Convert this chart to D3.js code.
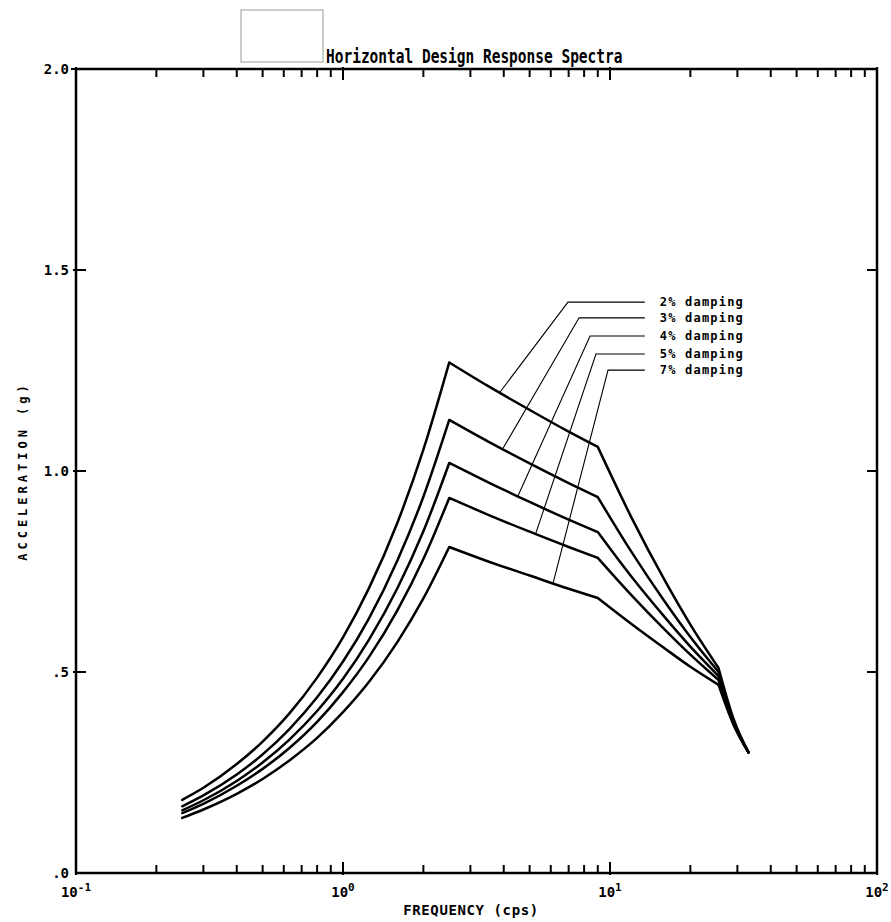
<!DOCTYPE html>
<html>
<head>
<meta charset="utf-8">
<script src="https://cdn.jsdelivr.net/npm/d3@7"></script>
<style>
  body { margin: 0; background: #fff; }
  text { font-family: "DejaVu Sans Mono", monospace; font-weight: bold; fill: #000; }
</style>
</head>
<body>
<svg id="chart" width="891" height="922"></svg>
<script>
var freq = [0.25, 0.3, 0.4, 0.5, 0.63, 0.8, 1.0, 1.25, 1.6, 2.0, 2.5, 3.5, 5, 7, 9, 12, 16, 20, 25.5, 29, 33];
// corner points of the spectra (indices into freq)
var corners = [0, 10, 14, 18, 20];

// acceleration (g) for each damping
var acc2 = [0.182, 0.212, 0.271, 0.327, 0.397, 0.486, 0.586, 0.708, 0.872, 1.053, 1.27, 1.211, 1.152, 1.098, 1.06, 0.886, 0.729, 0.618, 0.51, 0.384, 0.30];
var acc3 = [0.166, 0.193, 0.245, 0.295, 0.358, 0.437, 0.526, 0.633, 0.778, 0.936, 1.127, 1.073, 1.019, 0.970, 0.935, 0.800, 0.676, 0.587, 0.50, 0.380, 0.30];
var acc4 = [0.156, 0.181, 0.229, 0.275, 0.332, 0.403, 0.483, 0.580, 0.709, 0.850, 1.02, 0.972, 0.923, 0.879, 0.848, 0.738, 0.637, 0.563, 0.49, 0.377, 0.30];
var acc5 = [0.149, 0.172, 0.217, 0.259, 0.311, 0.376, 0.450, 0.537, 0.654, 0.781, 0.933, 0.891, 0.849, 0.811, 0.784, 0.692, 0.606, 0.543, 0.48, 0.373, 0.30];
var acc7 = [0.137, 0.158, 0.197, 0.234, 0.280, 0.336, 0.400, 0.475, 0.575, 0.683, 0.811, 0.775, 0.740, 0.707, 0.684, 0.620, 0.559, 0.513, 0.468, 0.369, 0.30];

// legend labels and their leader lines (corner, end on curve)
var labels = ['2% damping', '3% damping', '4% damping', '5% damping', '7% damping'];
var labelAcc = [1.420, 1.381, 1.336, 1.291, 1.251];
var cornerFreq = [6.96, 7.66, 8.42, 8.86, 9.83];
var anchorFreq = [3.87, 3.98, 4.52, 5.28, 6.12];
var anchorAcc = [1.196, 1.057, 0.938, 0.846, 0.721];
var leaderEnd = 13.5;

var yTicks = [0, 0.5, 1.0, 1.5, 2.0];
var yTickLabels = ['.0', '.5', '1.0', '1.5', '2.0'];
var xDecades = [0.1, 1, 10, 100];
var xDecadeExp = ['-1', '0', '1', '2'];

var svg = d3.select('#chart');

var x = d3.scaleLog().domain([0.1, 100]).range([76, 877]);
var y = d3.scaleLinear().domain([0, 2]).range([873, 69]);

// title box and title
svg.append('rect')
	.attr('x', 241).attr('y', 10)
	.attr('width', 82).attr('height', 52)
	.attr('fill', 'none')
	.attr('stroke', '#999')
	.attr('stroke-width', 1);

svg.append('text')
	.attr('transform', 'translate(326,63) scale(1,1.3)')
	.style('font-size', '14.5px')
	.text('Horizontal Design Response Spectra');

// x ticks, bottom and top
var xMinor = x.ticks().filter(function(d) {
	return xDecades.indexOf(d) < 0;
});

function tickLines(vals, len, yBase, dir) {
	svg.append('g').selectAll('line')
		.data(vals)
		.enter().append('line')
		.attr('x1', function(d) { return x(d); })
		.attr('x2', function(d) { return x(d); })
		.attr('y1', yBase)
		.attr('y2', yBase + dir * len)
		.attr('stroke', '#000')
		.attr('stroke-width', 2);
}
tickLines(xMinor, 8, y(0), -1);
tickLines(xDecades, 13, y(0) + 2, -1);
tickLines(xMinor, 8, y(2), 1);
tickLines(xDecades, 13, y(2) - 2, 1);

// y ticks, left and right
svg.append('g').selectAll('line')
	.data(yTicks.slice(1, 4))
	.enter().append('line')
	.attr('x1', x(0.1) - 3).attr('x2', x(0.1) + 10)
	.attr('y1', function(d) { return y(d); })
	.attr('y2', function(d) { return y(d); })
	.attr('stroke', '#000').attr('stroke-width', 2);
svg.append('line')
	.attr('x1', x(0.1) - 5).attr('x2', x(0.1))
	.attr('y1', y(2)).attr('y2', y(2))
	.attr('stroke', '#000').attr('stroke-width', 2);
svg.append('g').selectAll('line')
	.data(yTicks.slice(1, 4))
	.enter().append('line')
	.attr('x1', x(100) - 10).attr('x2', x(100))
	.attr('y1', function(d) { return y(d); })
	.attr('y2', function(d) { return y(d); })
	.attr('stroke', '#000').attr('stroke-width', 2);

// frame
svg.append('rect')
	.attr('x', x(0.1)).attr('y', y(2))
	.attr('width', x(100) - x(0.1))
	.attr('height', y(0) - y(2))
	.attr('fill', 'none')
	.attr('stroke', '#000')
	.attr('stroke-width', 2.5);

// y tick labels
svg.append('g').selectAll('text')
	.data(yTicks)
	.enter().append('text')
	.attr('x', x(0.1) - 7)
	.attr('y', function(d) { return y(d); })
	.attr('dy', '0.36em')
	.attr('text-anchor', 'end')
	.style('font-size', '14px')
	.text(function(d, i) { return yTickLabels[i]; });

// x tick labels with superscripts
var xl = svg.append('g').selectAll('text')
	.data(xDecades)
	.enter().append('text')
	.attr('x', function(d) { return x(d); })
	.attr('y', 897)
	.attr('text-anchor', 'middle')
	.style('font-size', '14px');
xl.append('tspan').text('10');
xl.append('tspan')
	.attr('dy', -6)
	.style('font-size', '11px')
	.text(function(d, i) { return xDecadeExp[i]; });

// axis titles
svg.append('text')
	.attr('x', 471).attr('y', 915)
	.attr('text-anchor', 'middle')
	.style('font-size', '14px')
	.style('letter-spacing', '0.6px')
	.text('FREQUENCY (cps)');

svg.append('text')
	.attr('transform', 'translate(27,471) rotate(-90)')
	.attr('text-anchor', 'middle')
	.style('font-size', '12px')
	.style('letter-spacing', '4px')
	.text('ACCELERATION (g)');

// curves: each segment between corners drawn smooth, corners kept sharp
var series = [acc2, acc3, acc4, acc5, acc7];
var line = d3.line()
	.x(function(d) { return x(d[0]); })
	.y(function(d) { return y(d[1]); })
	.curve(d3.curveMonotoneX);

function spectrumPath(acc) {
	var p = d3.path();
	line.context(p);
	for (var s = 0; s < corners.length - 1; s++) {
		var pts = [];
		for (var i = corners[s]; i <= corners[s + 1]; i++) {
			pts.push([freq[i], acc[i]]);
		}
		line(pts);
	}
	line.context(null);
	return p.toString();
}

svg.append('g').selectAll('path')
	.data(series)
	.enter().append('path')
	.attr('d', spectrumPath)
	.attr('fill', 'none')
	.attr('stroke', '#000')
	.attr('stroke-width', 2.5)
	.attr('stroke-linecap', 'round')
	.attr('stroke-linejoin', 'round');

// leader lines
svg.append('g').selectAll('path')
	.data(labels)
	.enter().append('path')
	.attr('d', function(d, i) {
		return 'M' + x(anchorFreq[i]) + ',' + y(anchorAcc[i]) +
			'L' + x(cornerFreq[i]) + ',' + y(labelAcc[i]) +
			'L' + x(leaderEnd) + ',' + y(labelAcc[i]);
	})
	.attr('fill', 'none')
	.attr('stroke', '#000')
	.attr('stroke-width', 1.1);

svg.append('g').selectAll('text')
	.data(labels)
	.enter().append('text')
	.attr('x', x(leaderEnd) + 15)
	.attr('y', function(d, i) { return y(labelAcc[i]); })
	.attr('dy', '0.36em')
	.style('font-size', '12px')
	.style('letter-spacing', '1.2px')
	.text(function(d) { return d; });
</script>
</body>
</html>
